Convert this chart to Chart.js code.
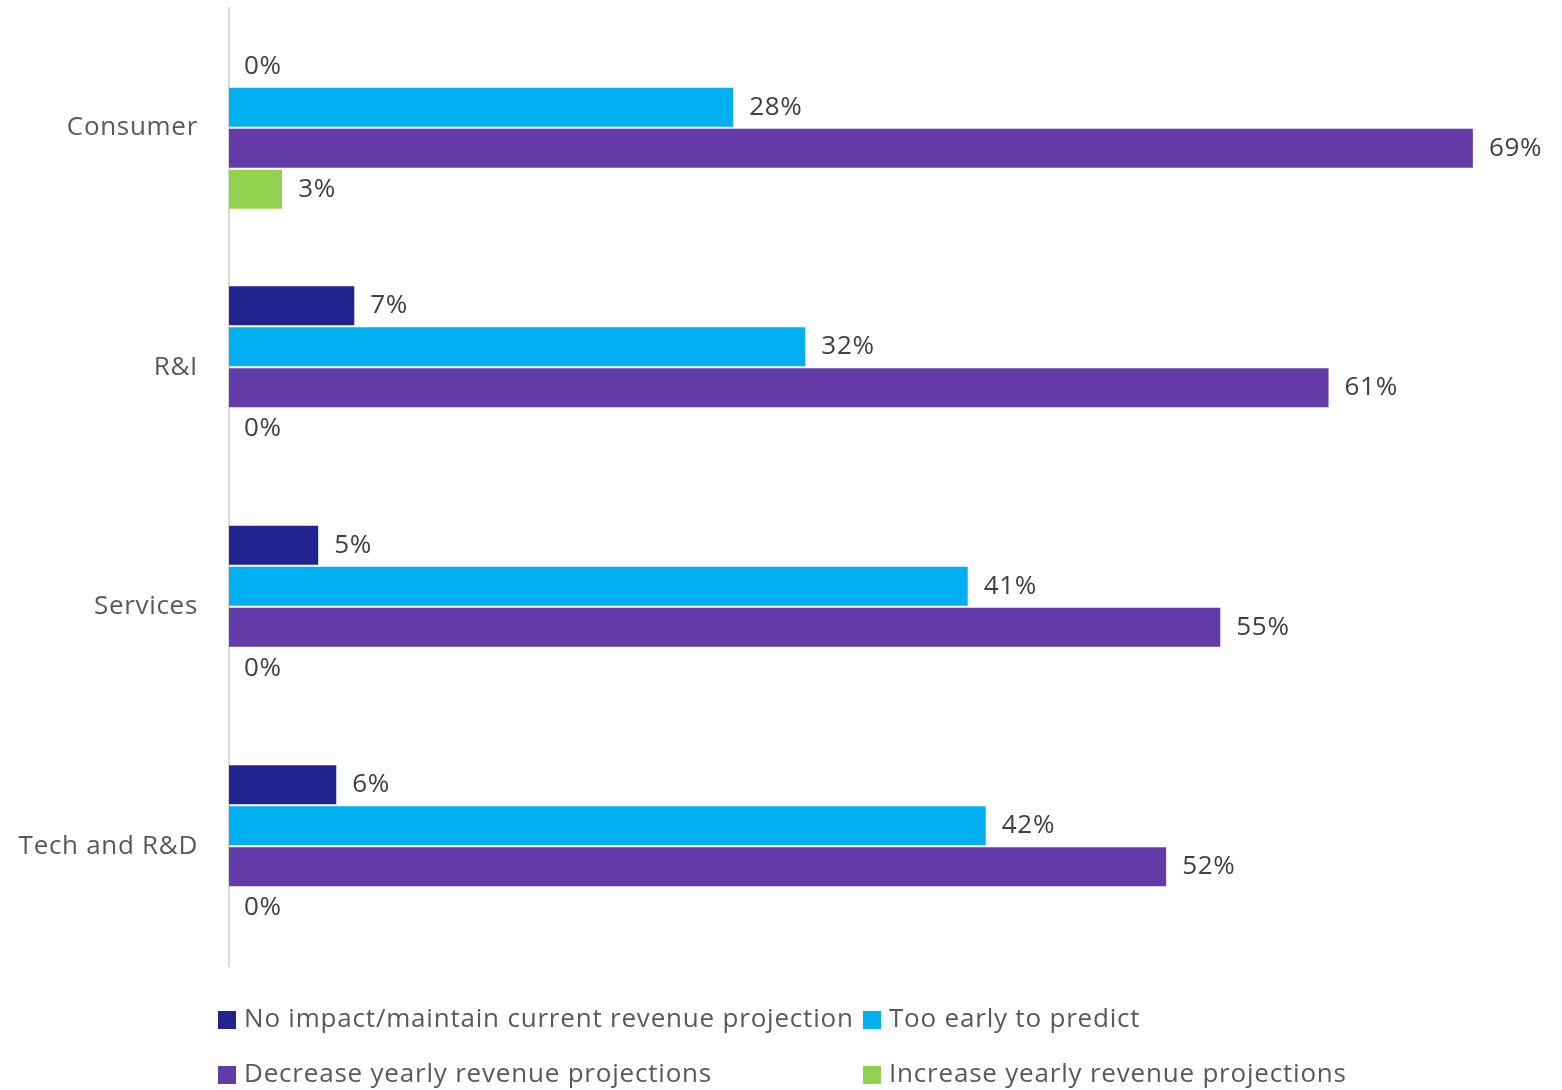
<!DOCTYPE html>
<html>
<head>
<meta charset="utf-8">
<script src="https://cdn.jsdelivr.net/npm/chart.js@4"></script>
<style>
  html, body { margin: 0; padding: 0; background: #fff; }
  #wrap { width: 1562px; height: 1090px; }
</style>
</head>
<body>
<div id="wrap"><canvas id="myChart" width="1562" height="1090"></canvas></div>
<script>
const categories = ["Consumer", "R&I", "Services", "Tech and R&D"];
const seriesNames = [
  "No impact/maintain current revenue projection",
  "Too early to predict",
  "Decrease yearly revenue projections",
  "Increase yearly revenue projections"
];
const noImpact = [0, 7, 5, 6];
const tooEarly = [28, 32, 41, 42];
const decrease = [69, 61, 55, 52];
const increase = [3, 0, 0, 0];
const colors = ["#21248F", "#00B0F0", "#643CAA", "#92D050"];

const FONT = "'Open Sans', Lato, sans-serif";

// a bit of tracking so the text width is closer to the original
const spacing = {
  id: 'spacing',
  beforeDraw(chart) { chart.ctx.letterSpacing = "0.7px"; }
};

// value labels at bar ends
const valueLabels = {
  id: 'valueLabels',
  afterDatasetsDraw(chart) {
    const ctx = chart.ctx;
    ctx.save();
    ctx.font = "26px " + FONT;
    ctx.fillStyle = "#404040";
    ctx.textBaseline = "middle";
    ctx.textAlign = "left";
    chart.data.datasets.forEach((ds, i) => {
      chart.getDatasetMeta(i).data.forEach((bar, j) => {
        ctx.fillText(ds.data[j] + "%", bar.x + 15, bar.y);
      });
    });
    ctx.restore();
  }
};

// two-column legend below the plot
const gridLegend = {
  id: 'gridLegend',
  afterDraw(chart) {
    const ctx = chart.ctx;
    const cols = [218, 863];
    const rows = [1020, 1075];
    ctx.save();
    ctx.font = "26px " + FONT;
    ctx.letterSpacing = "0.8px";
    ctx.textBaseline = "middle";
    chart.data.datasets.forEach((ds, i) => {
      const x = cols[i % 2], y = rows[Math.floor(i / 2)];
      ctx.fillStyle = ds.backgroundColor;
      ctx.fillRect(x, y - 9, 18, 18);
      ctx.fillStyle = "#595959";
      ctx.fillText(ds.label, x + 26, y);
    });
    ctx.restore();
  }
};

const datasets = [noImpact, tooEarly, decrease, increase].map((d, i) => ({
  label: seriesNames[i],
  data: d,
  backgroundColor: colors[i],
  borderColor: "rgba(255,255,255,0.45)",
  borderWidth: 1,
  categoryPercentage: 0.685,
  barPercentage: 1
}));

new Chart(document.getElementById("myChart"), {
  type: 'bar',
  data: { labels: categories, datasets: datasets },
  plugins: [spacing, valueLabels, gridLegend],
  options: {
    indexAxis: 'y',
    responsive: false,
    animation: false,
    layout: { padding: { top: 8, bottom: 124, right: 34, left: 0 } },
    plugins: {
      legend: { display: false },
      tooltip: { enabled: false }
    },
    scales: {
      x: {
        min: 0,
        max: 72,
        display: false
      },
      y: {
        afterFit: (s) => { s.width = 229; s.paddingTop = 0; s.paddingBottom = 0; },
        grid: { display: false, drawTicks: false },
        border: { display: true, color: "#d9d9d9", width: 2 },
        ticks: {
          padding: 31,
          color: "#595959",
          font: { family: FONT, size: 26 }
        }
      }
    }
  }
});
</script>
</body>
</html>
